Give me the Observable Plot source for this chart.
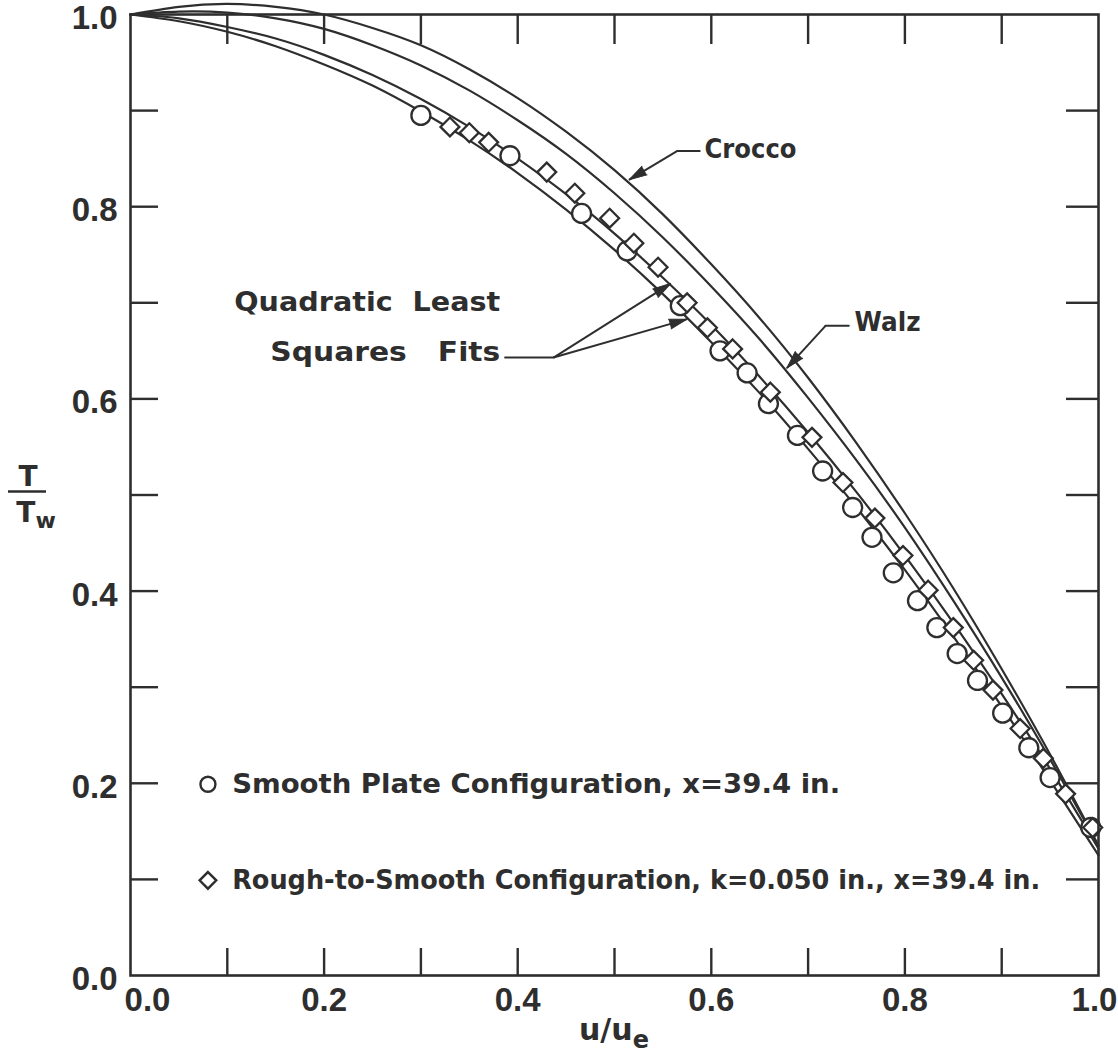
<!DOCTYPE html>
<html><head><meta charset="utf-8">
<script src="https://cdn.jsdelivr.net/npm/d3@7"></script>
<script src="https://cdn.jsdelivr.net/npm/@observablehq/plot@0.6"></script>
<style>
body{margin:0;background:#fff;}
#chart svg{display:block;background:#fff;}
</style></head><body><div id="chart"></div>
<script>
// ---- data ----
const curveU     = [0,0.05,0.1,0.15,0.2,0.25,0.3,0.35,0.4,0.45,0.5,0.55,0.6,0.65,0.7,0.75,0.8,0.85,0.9,0.95,1.0];
const croccoT    = [1.000,1.008,1.011,1.008,1.000,0.986,0.968,0.943,0.913,0.878,0.838,0.792,0.740,0.684,0.622,0.554,0.481,0.403,0.319,0.230,0.135];
const walzT      = [1.000,1.003,1.002,0.996,0.985,0.968,0.947,0.921,0.890,0.855,0.814,0.768,0.717,0.662,0.601,0.536,0.466,0.390,0.310,0.225,0.135];
const roughFitT  = [1.000,0.996,0.987,0.975,0.958,0.937,0.912,0.883,0.850,0.813,0.772,0.726,0.677,0.623,0.565,0.503,0.437,0.367,0.293,0.215,0.132];
const smoothFitT = [1.000,0.993,0.982,0.967,0.948,0.926,0.899,0.869,0.835,0.797,0.755,0.709,0.659,0.606,0.548,0.487,0.422,0.353,0.280,0.203,0.125];

const smoothU = [0.300,0.392,0.466,0.513,0.568,0.609,0.637,0.659,0.689,0.715,0.746,0.766,0.788,0.813,0.833,0.854,0.875,0.901,0.928,0.950,0.992];
const smoothT = [0.895,0.853,0.793,0.754,0.697,0.650,0.627,0.595,0.562,0.525,0.487,0.456,0.419,0.390,0.362,0.335,0.307,0.273,0.237,0.206,0.154];
const roughU  = [0.330,0.350,0.370,0.430,0.459,0.495,0.520,0.545,0.575,0.596,0.622,0.661,0.704,0.736,0.769,0.798,0.824,0.850,0.871,0.891,0.919,0.943,0.966,0.994];
const roughT  = [0.883,0.877,0.867,0.836,0.814,0.788,0.762,0.737,0.700,0.674,0.652,0.607,0.560,0.513,0.476,0.437,0.401,0.362,0.328,0.297,0.257,0.226,0.189,0.154];

const xTickLabels = [0.2,0.4,0.6,0.8];
const xEndLabels  = [1.0];
const xStartLabels = [0.0];
const yTickLabels = [0.0,0.2,0.4,0.6,0.8,1.0];
const minorTicks  = [0.1,0.2,0.3,0.4,0.5,0.6,0.7,0.8,0.9];

const legendLabels = ["Smooth Plate Configuration, x=39.4 in.", "Rough-to-Smooth Configuration, k=0.050 in., x=39.4 in."];
const legendU = [0.080, 0.080];
const legendT = [0.199, 0.099];
const legendTextU = [0.105, 0.105];
const legendWidths = [608, 808];

const noteStartLabels = ["Crocco", "Walz"];
const noteStartU = [0.593, 0.748];
const noteStartT = [0.860, 0.680];
const noteStartWidths = [92, 66];
const noteEndLabels = ["Quadratic  Least", "Squares   Fits"];
const noteEndU = [0.382, 0.382];
const noteEndT = [0.700, 0.648];
const noteEndWidths = [266, 230];

// leader lines and arrows
const leaderGroups = ["crocco","crocco","walz","walz","fits","fits"];
const leaderU = [0.588,0.565,0.742,0.718,0.387,0.437];
const leaderT = [0.858,0.858,0.676,0.676,0.643,0.643];
const arrowFromU = [0.565,0.718,0.437,0.437];
const arrowFromT = [0.858,0.676,0.643,0.643];
const arrowToU   = [0.515,0.678,0.575,0.558];
const arrowToT   = [0.828,0.632,0.683,0.720];

// ---- tables ----
const curves = [];
curveU.forEach((u,i)=>{
  curves.push({u, t: croccoT[i], s: "Crocco"});
  curves.push({u, t: walzT[i], s: "Walz"});
  curves.push({u, t: roughFitT[i], s: "roughFit"});
  curves.push({u, t: smoothFitT[i], s: "smoothFit"});
});
const smooth = smoothU.map((u,i)=>({u, t: smoothT[i]}));
const rough  = roughU.map((u,i)=>({u, t: roughT[i]}));
const legend = legendLabels.map((l,i)=>({l, u: legendU[i], t: legendT[i], tu: legendTextU[i], w: legendWidths[i], sym: i===0 ? "circle" : "diamond2"}));
const notesStart = noteStartLabels.map((l,i)=>({l, u: noteStartU[i], t: noteStartT[i], w: noteStartWidths[i]}));
const notesEnd = noteEndLabels.map((l,i)=>({l, u: noteEndU[i], t: noteEndT[i], w: noteEndWidths[i]}));
const leaders = leaderU.map((u,i)=>({g: leaderGroups[i], u, t: leaderT[i]}));

const W = 1118, H = 1056, mL = 130, mR = 20, mT = 14, mB = 81;
const pw = W - mL - mR, ph = H - mT - mB;
const arrows = arrowFromU.map((u,i)=>{
  const dx = (arrowToU[i] - u) * pw, dy = -(arrowToT[i] - arrowFromT[i]) * ph;
  return {u1: u, t1: arrowFromT[i], u2: arrowToU[i], t2: arrowToT[i], rot: Math.atan2(dx, -dy) * 180 / Math.PI};
});

const ink = "#2e2e2e";
const font = "DejaVu Sans";
const tickFont = "Liberation Sans";

const plot = Plot.plot({
  width: W, height: H,
  marginLeft: mL, marginRight: mR, marginTop: mT, marginBottom: mB,
  x: {domain: [0, 1]},
  y: {domain: [0, 1]},
  style: {fontFamily: font, background: "#fff", color: ink},
  marks: [
    // inward ticks
    Plot.tickX(minorTicks, {x: d => d, insetTop: ph - 27, stroke: ink, strokeWidth: 2.4}),
    Plot.tickX(minorTicks, {x: d => d, insetBottom: ph - 30, stroke: ink, strokeWidth: 2.4}),
    Plot.tickY(minorTicks, {y: d => d, insetRight: pw - 28, stroke: ink, strokeWidth: 2.4}),
    Plot.tickY(minorTicks, {y: d => d, insetLeft: pw - 32, stroke: ink, strokeWidth: 2.4}),
    // tick labels
    Plot.axisY(yTickLabels, {anchor: "left", tickSize: 0, tickPadding: 13, dy: 4, tickFormat: d => d.toFixed(1), label: null, fontSize: 33, fontWeight: "bold", fontFamily: tickFont, fill: ink}),
    Plot.axisX(xTickLabels, {anchor: "bottom", tickSize: 0, tickPadding: 12, tickFormat: d => d.toFixed(1), label: null, fontSize: 33, fontWeight: "bold", fontFamily: tickFont, fill: ink}),
    Plot.axisX(xStartLabels, {anchor: "bottom", tickSize: 0, tickPadding: 12, dx: 17, tickFormat: d => d.toFixed(1), label: null, fontSize: 33, fontWeight: "bold", fontFamily: tickFont, fill: ink}),
    Plot.axisX(xEndLabels, {anchor: "bottom", tickSize: 0, tickPadding: 12, dx: -4, tickFormat: d => d.toFixed(1), label: null, fontSize: 33, fontWeight: "bold", fontFamily: tickFont, fill: ink}),
    // curves
    Plot.line(curves, {x: "u", y: "t", z: "s", curve: "natural", stroke: ink, strokeWidth: 2.2}),
    // data
    Plot.dot(smooth, {x: "u", y: "t", r: 9.5, symbol: "circle", stroke: ink, strokeWidth: 2.3, fill: "#fff"}),
    Plot.dot(rough,  {x: "u", y: "t", r: 8.5, symbol: "diamond2", stroke: ink, strokeWidth: 2.3, fill: "#fff"}),
    // annotations
    Plot.line(leaders, {x: "u", y: "t", z: "g", stroke: ink, strokeWidth: 2}),
    Plot.link(arrows, {x1: "u1", y1: "t1", x2: "u2", y2: "t2", stroke: ink, strokeWidth: 2}),
    Plot.vector(arrows, {x: "u2", y: "t2", rotate: "rot", length: 18, r: 5, shape: "spike", anchor: "end", fill: ink, stroke: ink, strokeWidth: 1}),
    Plot.text(notesStart, {x: "u", y: "t", text: "l", textAnchor: "start", fontSize: 27, fontWeight: "bold", fill: ink}),
    Plot.text(notesEnd, {x: "u", y: "t", text: "l", textAnchor: "end", fontSize: 27, fontWeight: "bold", fill: ink}),
    // legend
    Plot.dot(legend, {x: "u", y: "t", r: 7.5, symbol: "sym", stroke: ink, strokeWidth: 2.4, fill: "#fff"}),
    Plot.text(legend, {x: "tu", y: "t", text: "l", textAnchor: "start", fontSize: 26, fontWeight: "bold", fill: ink}),
    Plot.frame({stroke: ink, strokeWidth: 2.6})
  ]
});

const svg = d3.select(plot);
// stretch annotation texts to the widths measured in the picture
const widthByLabel = new Map([...notesStart, ...notesEnd, ...legend].map(d => [d.l, d.w]));
svg.selectAll("text").each(function(){
  const w = widthByLabel.get(this.textContent);
  if (w) d3.select(this).attr("textLength", w).attr("lengthAdjust", "spacingAndGlyphs");
});

// axis titles placed with the plot's scales
const xs = plot.scale("x"), ys = plot.scale("y");
const xl = svg.append("text").attr("x", xs.apply(0.5)).attr("y", 1040)
  .attr("text-anchor", "middle").attr("font-family", font).attr("font-weight", "bold").attr("font-size", 30).attr("fill", ink);
xl.append("tspan").text("u/u");
xl.append("tspan").attr("font-size", 24).attr("dy", 8).text("e");

const yc = ys.apply(0.5);
const yg = svg.append("g").attr("font-family", font).attr("font-weight", "bold").attr("fill", ink);
yg.append("text").attr("x", 28).attr("y", yc - 9).attr("text-anchor", "middle").attr("font-size", 28).text("T");
yg.append("line").attr("x1", 8).attr("x2", 46).attr("y1", yc - 3).attr("y2", yc - 3).attr("stroke", ink).attr("stroke-width", 2.6);
const tw = yg.append("text").attr("x", 36).attr("y", yc + 27).attr("text-anchor", "middle").attr("font-size", 28);
tw.append("tspan").text("T");
tw.append("tspan").attr("font-size", 22).attr("dy", 6).text("w");

document.getElementById("chart").appendChild(plot);
</script>
</body></html>
